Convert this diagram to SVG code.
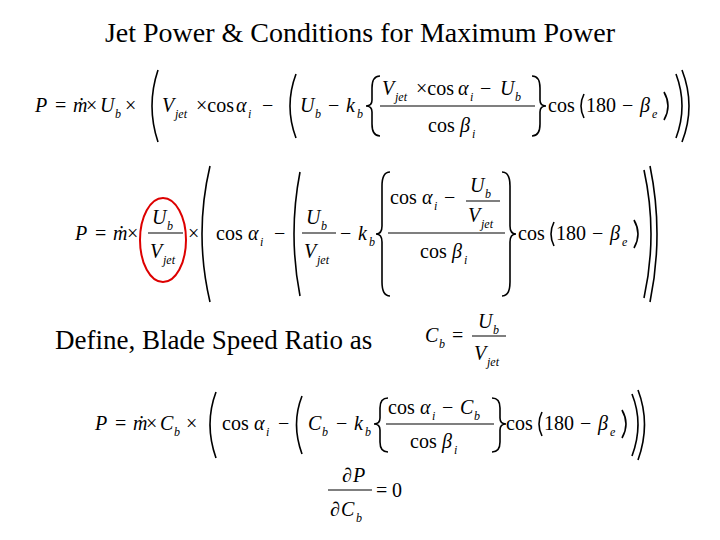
<svg xmlns="http://www.w3.org/2000/svg" width="720" height="540" viewBox="0 0 720 540" font-family="'Liberation Serif', 'Times New Roman', 'DejaVu Serif', serif">
<style>
text{font-family:'Liberation Serif','Times New Roman',serif;font-size:20px;fill:#000}
.i{font-style:italic}
.s{font-size:12px;font-style:italic}
.p{fill:none;stroke:#000;stroke-width:1.6}
.l{stroke:#000;stroke-width:1.2}
</style>
<rect width="720" height="540" fill="#fff"/>
<text x="360" y="42" text-anchor="middle" style="font-size:28px">Jet Power &amp; Conditions for Maximum Power</text>

<g id="eq1">
<text x="35" y="112" class="i">P</text><text x="55" y="112">=</text><text x="73" y="112" class="i">ṁ</text><text x="86" y="112">×</text>
<text x="100" y="112" class="i">U</text><text x="115" y="118" class="s">b</text><text x="125" y="112">×</text>
<path class="p" d="M158 70 Q146 106 158 142"/>
<text x="162" y="112" class="i">V</text><text x="175" y="118" class="s">jet</text><text x="196" y="112">×cos</text><text x="236" y="112" class="i">α</text><text x="248" y="118" class="s">i</text>
<text x="262" y="112">−</text>
<path class="p" d="M296 74 Q284 106 296 138"/>
<text x="300" y="112" class="i">U</text><text x="315" y="118" class="s">b</text><text x="328" y="112">−</text><text x="346" y="112" class="i">k</text><text x="357" y="118" class="s">b</text>
<path class="p" d="M380 76 Q372 76 372 88 L372 100 Q372 106 366 106 Q372 106 372 112 L372 124 Q372 136 380 136"/>
<text x="382" y="95" class="i">V</text><text x="395" y="101" class="s">jet</text><text x="416" y="95">×cos</text><text x="458" y="95" class="i">α</text><text x="470" y="101" class="s">i</text><text x="480" y="95">−</text><text x="500" y="95" class="i">U</text><text x="515" y="101" class="s">b</text>
<line class="l" x1="380" y1="106" x2="535" y2="106"/>
<text x="428" y="132">cos</text><text x="460" y="132" class="i">β</text><text x="472" y="138" class="s">i</text>
<path class="p" d="M532 76 Q540 76 540 88 L540 100 Q540 106 546 106 Q540 106 540 112 L540 124 Q540 136 532 136"/>
<text x="548" y="112">cos</text><path class="p" d="M584 94 Q578 106 584 118"/><text x="586" y="112">180</text><text x="622" y="112">−</text><text x="640" y="112" class="i">β</text><text x="652" y="118" class="s">e</text>
<path class="p" d="M664 92 Q672 106 664 120"/>
<path class="p" d="M676 74 Q688 106 676 138"/>
<path class="p" d="M682 70 Q696 106 682 142"/>
</g>

<g id="eq2">
<text x="75" y="240" class="i">P</text><text x="95" y="240">=</text><text x="113" y="240" class="i">ṁ</text><text x="127" y="240">×</text>
<text x="152" y="224" class="i">U</text><text x="167" y="230" class="s">b</text>
<line class="l" x1="148" y1="233" x2="183" y2="233"/>
<text x="150" y="258" class="i">V</text><text x="163" y="264" class="s">jet</text>
<ellipse cx="163" cy="240" rx="23" ry="42" fill="none" stroke="#d00" stroke-width="2"/>
<text x="188" y="240">×</text>
<path class="p" d="M210 166 Q194 234 210 302"/>
<text x="216" y="240">cos</text><text x="248" y="240" class="i">α</text><text x="260" y="246" class="s">i</text>
<text x="274" y="240">−</text>
<path class="p" d="M300 172 Q288 234 300 296"/>
<text x="306" y="224" class="i">U</text><text x="321" y="230" class="s">b</text>
<line class="l" x1="302" y1="233" x2="336" y2="233"/>
<text x="304" y="258" class="i">V</text><text x="317" y="264" class="s">jet</text>
<text x="340" y="240">−</text><text x="358" y="240" class="i">k</text><text x="369" y="246" class="s">b</text>
<path class="p" d="M390 172 Q382 172 382 186 L382 226 Q382 234 376 234 Q382 234 382 242 L382 282 Q382 296 390 296"/>
<text x="390" y="204">cos</text><text x="422" y="204" class="i">α</text><text x="434" y="210" class="s">i</text><text x="444" y="204">−</text>
<text x="470" y="192" class="i">U</text><text x="485" y="198" class="s">b</text>
<line class="l" x1="466" y1="201" x2="500" y2="201"/>
<text x="468" y="222" class="i">V</text><text x="481" y="228" class="s">jet</text>
<line class="l" x1="388" y1="233" x2="505" y2="233"/>
<text x="420" y="258">cos</text><text x="452" y="258" class="i">β</text><text x="464" y="264" class="s">i</text>
<path class="p" d="M502 172 Q510 172 510 186 L510 226 Q510 234 516 234 Q510 234 510 242 L510 282 Q510 296 502 296"/>
<text x="518" y="240">cos</text><path class="p" d="M554 222 Q548 234 554 246"/><text x="556" y="240">180</text><text x="592" y="240">−</text><text x="610" y="240" class="i">β</text><text x="622" y="246" class="s">e</text>
<path class="p" d="M634 220 Q642 234 634 248"/>
<path class="p" d="M644 170 Q658 234 644 298"/>
<path class="p" d="M650 166 Q664 234 650 302"/>
</g>

<g id="def">
<text x="55" y="349" style="font-size:27px">Define, Blade Speed Ratio as</text>
<text x="425" y="342" class="i">C</text><text x="439" y="348" class="s">b</text><text x="452" y="342">=</text>
<text x="478" y="328" class="i">U</text><text x="493" y="334" class="s">b</text>
<line class="l" x1="472" y1="336" x2="506" y2="336"/>
<text x="474" y="360" class="i">V</text><text x="487" y="366" class="s">jet</text>
</g>

<g id="eq3">
<text x="95" y="430" class="i">P</text><text x="115" y="430">=</text><text x="133" y="430" class="i">ṁ</text><text x="146" y="430">×</text>
<text x="160" y="430" class="i">C</text><text x="174" y="436" class="s">b</text><text x="186" y="430">×</text>
<path class="p" d="M216 392 Q204 424 216 458"/>
<text x="222" y="430">cos</text><text x="254" y="430" class="i">α</text><text x="266" y="436" class="s">i</text>
<text x="278" y="430">−</text>
<path class="p" d="M302 396 Q291 424 302 454"/>
<text x="308" y="430" class="i">C</text><text x="322" y="436" class="s">b</text><text x="336" y="430">−</text><text x="354" y="430" class="i">k</text><text x="365" y="436" class="s">b</text>
<path class="p" d="M388 398 Q380 398 380 408 L380 418 Q380 424 374 424 Q380 424 380 430 L380 442 Q380 452 388 452"/>
<text x="388" y="414">cos</text><text x="420" y="414" class="i">α</text><text x="432" y="420" class="s">i</text><text x="442" y="414">−</text><text x="460" y="414" class="i">C</text><text x="474" y="420" class="s">b</text>
<line class="l" x1="386" y1="424" x2="494" y2="424"/>
<text x="410" y="448">cos</text><text x="442" y="448" class="i">β</text><text x="454" y="454" class="s">i</text>
<path class="p" d="M492 398 Q500 398 500 408 L500 418 Q500 424 506 424 Q500 424 500 430 L500 442 Q500 452 492 452"/>
<text x="506" y="430">cos</text><path class="p" d="M542 412 Q536 424 542 436"/><text x="544" y="430">180</text><text x="580" y="430">−</text><text x="598" y="430" class="i">β</text><text x="610" y="436" class="s">e</text>
<path class="p" d="M622 410 Q630 424 622 438"/>
<path class="p" d="M632 394 Q644 424 632 456"/>
<path class="p" d="M638 390 Q651 424 638 460"/>
</g>

<g id="eq4">
<text x="342" y="482">∂</text><text x="353" y="482" class="i">P</text>
<line class="l" x1="328" y1="490" x2="372" y2="490"/>
<text x="330" y="516">∂</text><text x="341" y="516" class="i">C</text><text x="356" y="522" class="s">b</text>
<text x="376" y="497">=</text><text x="392" y="497">0</text>
</g>
</svg>
